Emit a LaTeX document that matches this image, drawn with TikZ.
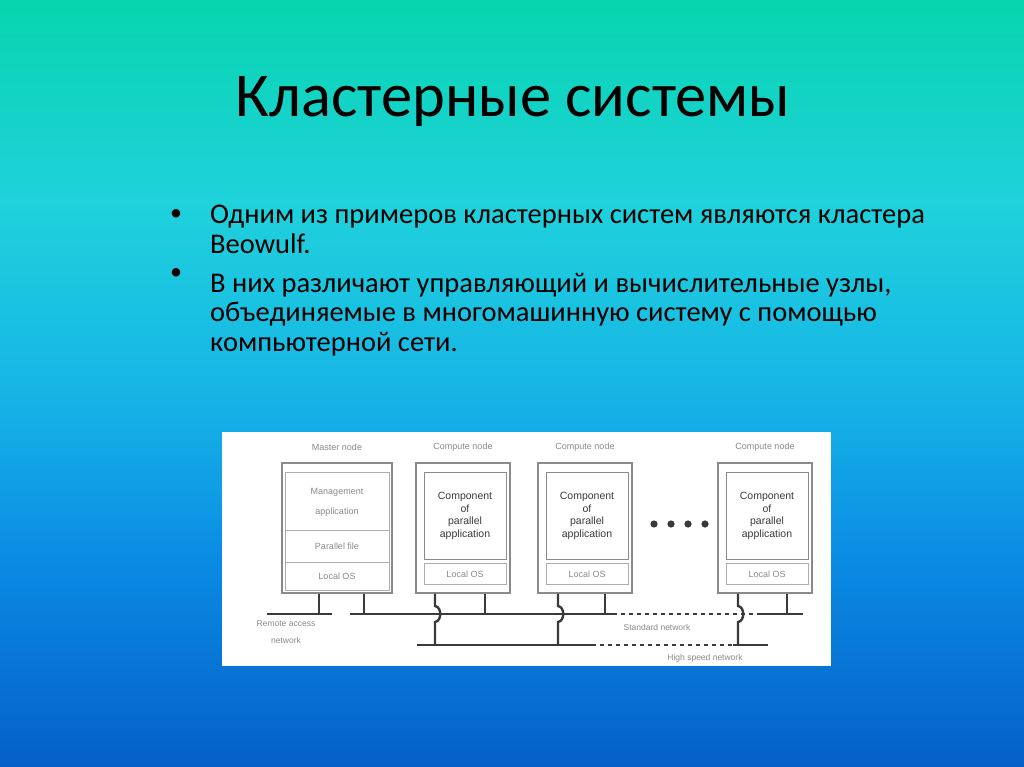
\documentclass[tikz,border=0pt]{standalone}
\usepackage{fontspec}
\setmainfont{Carlito}
\newfontfamily\arialf{Liberation Sans}
\definecolor{ctop}{HTML}{07D5AE}
\definecolor{cq}{HTML}{1FD2DB}
\definecolor{cmid}{HTML}{16B4E6}
\definecolor{cl}{HTML}{0A8BE4}
\definecolor{cbot}{HTML}{0560C6}
\definecolor{lgray}{HTML}{8A8A8A}
\definecolor{dgray}{HTML}{3A3A3A}
\pgfdeclareverticalshading{slidebg}{100bp}{color(0bp)=(cbot); color(25bp)=(cbot); color(38.5bp)=(cl); color(49bp)=(cmid); color(62bp)=(cq); color(75bp)=(ctop); color(100bp)=(ctop)}
\tikzset{
  outerbox/.style={draw=lgray, line width=1.2pt, fill=white, minimum width=94pt, minimum height=130pt, inner sep=0pt},
  innerbox/.style={draw=lgray!70, line width=0.8pt},
  small/.style={font=\arialf\fontsize{9}{10}\selectfont, text=lgray, inner sep=0pt},
  comp/.style={font=\arialf\fontsize{10.5}{12.5}\selectfont, text=dgray, align=center, inner sep=0pt},
  leg/.style={draw=dgray, line width=2.4pt},
  bus/.style={draw=dgray, line width=2.4pt},
  dbus/.style={draw=dgray, line width=2.2pt, dash pattern=on 4pt off 4pt},
  bullettext/.style={font=\fontsize{28.5}{29.5}\selectfont, align=left, anchor=base west, inner sep=0pt},
  bulletdot/.style={font=\fontsize{24}{24}\selectfont, inner sep=0pt, anchor=base},
}
\begin{document}
\begin{tikzpicture}[x=1pt,y=-1pt]
\useasboundingbox (0,0) rectangle (1024,767);
\shade[shading=slidebg] (0,0) rectangle (1024,767);
% title
\node[font=\fontsize{62.4}{62}\selectfont, inner sep=0pt] (title) at (513,102) {Кластерные системы};
% bullets (base anchor = baseline of last line)
\node[bulletdot] (b1) at (176,221) {•};
\node[bullettext] (t1) at (210,253) {Одним из примеров кластерных систем являются кластера\\Beowulf.};
\node[bulletdot] (b2) at (176,279) {•};
\node[bullettext] (t2) at (210,351) {В них различают управляющий и вычислительные узлы,\\объединяемые в многомашинную систему с помощью\\компьютерной сети.};
% diagram panel
\node[fill=white, draw=none, minimum width=609pt, minimum height=234pt, inner sep=0pt, anchor=north west] (panel) at (222,432) {};
% master node
\node[outerbox, minimum width=110pt] (master) at (337,528) {};
\draw[innerbox] (285,472) rectangle (389,590);
\draw[innerbox] (285,530) -- (389,530);
\draw[innerbox] (285,562) -- (389,562);
\node[small] (mlab) at (337,447) {Master node};
\node[small] (m1) at (337,492) {Management};
\node[small] (m2) at (337,512) {application};
\node[small] (m3) at (337,546) {Parallel file};
\node[small] (m4) at (337,576) {Local OS};
% compute nodes
\foreach \n/\cx in {c1/463, c2/585, c3/765}{
  \node[outerbox] (\n) at (\cx,528) {};
  \draw[innerbox, draw=lgray, line width=1pt] (\cx-38.5,472) rectangle (\cx+43,559);
  \draw[innerbox] (\cx-38.5,563) rectangle (\cx+43,584);
  \node[small] (\n lab) at (\cx,447) {Compute node};
  \node[comp] (\n txt) at (\cx+2,516) {Component\\of\\parallel\\application};
  \node[small] (\n os) at (\cx+2,574) {Local OS};
}
% dots
\foreach \i/\dx in {1/654,2/671,3/688,4/705}{
  \fill[dgray] (\dx,524) circle (3.6pt);
}
% networks
\coordinate (rA) at (267,614); \coordinate (rB) at (332,614);
\coordinate (sA) at (350,614); \coordinate (sB) at (613,614);
\coordinate (sC) at (760,614); \coordinate (sD) at (803,614);
\coordinate (hA) at (417,645); \coordinate (hB) at (592,645);
\coordinate (hC) at (733,645); \coordinate (hD) at (768,645);
\draw[bus] (rA) -- (rB);
\draw[bus] (sA) -- (sB);
\draw[dbus] (sB) -- (sC);
\draw[bus] (sC) -- (sD);
\draw[bus] (hA) -- (hB);
\draw[dbus] (hB) -- (hC);
\draw[bus] (hC) -- (hD);
% legs
\draw[leg] (master.south -| 319,0) -- (319,614);
\draw[leg] (master.south -| 364,0) -- (364,614);
\foreach \n/\wx/\sx in {c1/435/485, c2/558/605, c3/738/787}{
  \draw[leg] (\n.south -| \sx,0) -- (\sx,614);
  \draw[leg] (\n.south -| \wx,0) -- (\wx,606) .. controls (\wx+7,607) and (\wx+7,621) .. (\wx,622) -- (\wx,645);
}
% network labels
\node[small, align=center, font=\arialf\fontsize{8.5}{17}\selectfont] (rlab) at (286,632) {Remote access\\network};
\node[small, font=\arialf\fontsize{8.5}{10}\selectfont] (slab) at (657,627) {Standard network};
\node[small, font=\arialf\fontsize{8.5}{10}\selectfont] (hlab) at (705,658) {High speed network};
\end{tikzpicture}
\end{document}
